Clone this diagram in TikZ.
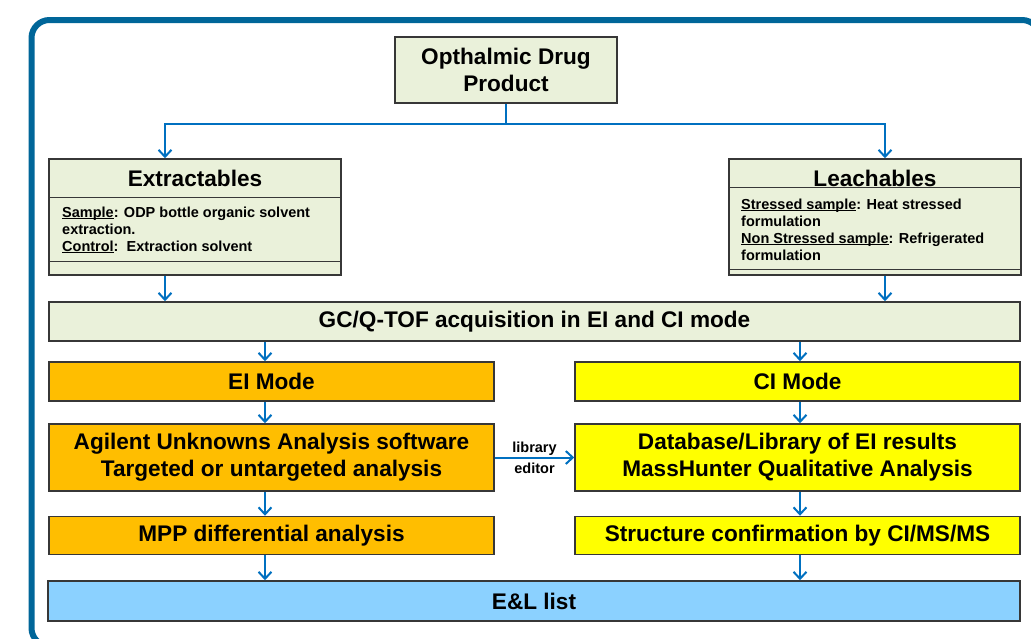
\documentclass[tikz,border=0pt]{standalone}
\usepackage{fontspec}
\setmainfont{Liberation Sans}
\usetikzlibrary{arrows.meta}
\definecolor{frameblue}{RGB}{0,102,153}
\definecolor{flowblue}{RGB}{0,112,192}
\definecolor{boxline}{RGB}{55,55,55}
\definecolor{boxgreen}{RGB}{234,241,218}
\definecolor{eiorange}{RGB}{255,190,0}
\definecolor{ciyellow}{RGB}{255,255,0}
\definecolor{listblue}{RGB}{139,209,255}
\newcommand\undl[1]{\setbox0\hbox{#1}\rlap{\rule[-1.8pt]{\wd0}{1pt}}\box0}
\begin{document}
\begin{tikzpicture}[x=1pt,y=-1pt]
    \tikzstyle{every node}=[font=\bfseries\fontsize{22.6}{27}\selectfont, inner sep=0pt]
    \tikzstyle{stepbox}=[draw=boxline, line width=1.5pt, minimum height=39pt, align=center]
    \tikzstyle{small}=[font=\bfseries\fontsize{14.5}{17}\selectfont, align=left, anchor=north west]
    \tikzstyle{flow}=[draw=flowblue, line width=2pt, -{Straight Barb[length=7pt,width=13pt]}]
    \useasboundingbox (0,0) rectangle (1031,638);
    \clip (0,0) rectangle (1031,638);
    \draw[line width=6pt, draw=frameblue, rounded corners=18pt] (31.5,20) rectangle (1040,646);

    \node[stepbox, fill=boxgreen, minimum width=222pt, minimum height=66pt] (odp) at (506,70) {Opthalmic Drug\\Product};

    % extractables / leachables
    \node[stepbox, fill=boxgreen, minimum width=292pt, minimum height=116pt] (ext) at (195,217) {};
    \draw[boxline, line width=1.5pt] (ext.north west) ++(0,39) -- ++(292,0);
    \draw[boxline, line width=1.5pt] (ext.north west) ++(0,103) -- ++(292,0);
    \node (extt) at (195,178.5) {Extractables};
    \node[small] (exts) at (62,206.5) {\undl{Sample}: ODP bottle organic solvent\\extraction.\\\undl{Control}:~~Extraction solvent};

    \node[stepbox, fill=boxgreen, minimum width=292pt, minimum height=116pt] (lea) at (875,217) {};
    \draw[boxline, line width=1.5pt] (lea.north west) ++(0,29) -- ++(292,0);
    \draw[boxline, line width=1.5pt] (lea.north west) ++(0,111) -- ++(292,0);
    \node (leat) at (875,178.5) {Leachables};
    \node[small] (leas) at (741,198.5) {\undl{Stressed sample}: Heat stressed\\formulation\\\undl{Non Stressed sample}: Refrigerated\\formulation};

    \node[stepbox, fill=boxgreen, minimum width=971pt] (gc) at (534.5,321.5) {GC/Q-TOF acquisition in EI and CI mode};

    \node[stepbox, fill=eiorange, minimum width=445pt] (ei) at (271.5,381.5) {EI Mode};
    \node[stepbox, fill=ciyellow, minimum width=445pt] (ci) at (797.5,381.5) {CI Mode};
    \node[stepbox, fill=eiorange, minimum width=445pt, minimum height=67pt] (aua) at (271.5,457.5) {Agilent Unknowns Analysis software\\Targeted or untargeted analysis};
    \node[stepbox, fill=ciyellow, minimum width=445pt, minimum height=67pt] (db) at (797.5,457.5) {Database/Library of EI results\\MassHunter Qualitative Analysis};
    \node[stepbox, fill=eiorange, minimum width=445pt, minimum height=38pt] (mpp) at (271.5,535.5) {MPP differential analysis};
    \node[stepbox, fill=ciyellow, minimum width=445pt, minimum height=38pt] (sc) at (797.5,535.5) {Structure confirmation by CI/MS/MS};
    \node[stepbox, fill=listblue, minimum width=972pt, minimum height=40pt] (el) at (534,601) {E\&L list};

    % connectors
    \coordinate (fork) at (506,124);
    \coordinate (xe) at (165,0);
    \coordinate (xa) at (885,0);
    \coordinate (xl) at (265,0);
    \coordinate (xr) at (800,0);
    \draw[flow] (odp.south) -- (fork) -| (ext.north -| xe);
    \draw[flow] (fork) -| (lea.north -| xa);
    \draw[flow] (ext.south -| xe) -- (gc.north -| xe);
    \draw[flow] (lea.south -| xa) -- (gc.north -| xa);
    \draw[flow] (gc.south -| xl) -- (ei.north -| xl);
    \draw[flow] (gc.south -| xr) -- (ci.north -| xr);
    \draw[flow] (ei.south -| xl) -- (aua.north -| xl);
    \draw[flow] (ci.south -| xr) -- (db.north -| xr);
    \draw[flow] (aua.south -| xl) -- (mpp.north -| xl);
    \draw[flow] (db.south -| xr) -- (sc.north -| xr);
    \draw[flow] (mpp.south -| xl) -- (el.north -| xl);
    \draw[flow] (sc.south -| xr) -- (el.north -| xr);
    \draw[flow] (aua) -- node[font=\bfseries\fontsize{14.5}{21}\selectfont, align=center] (lib) {library\\editor} (db);
\end{tikzpicture}
\end{document}
